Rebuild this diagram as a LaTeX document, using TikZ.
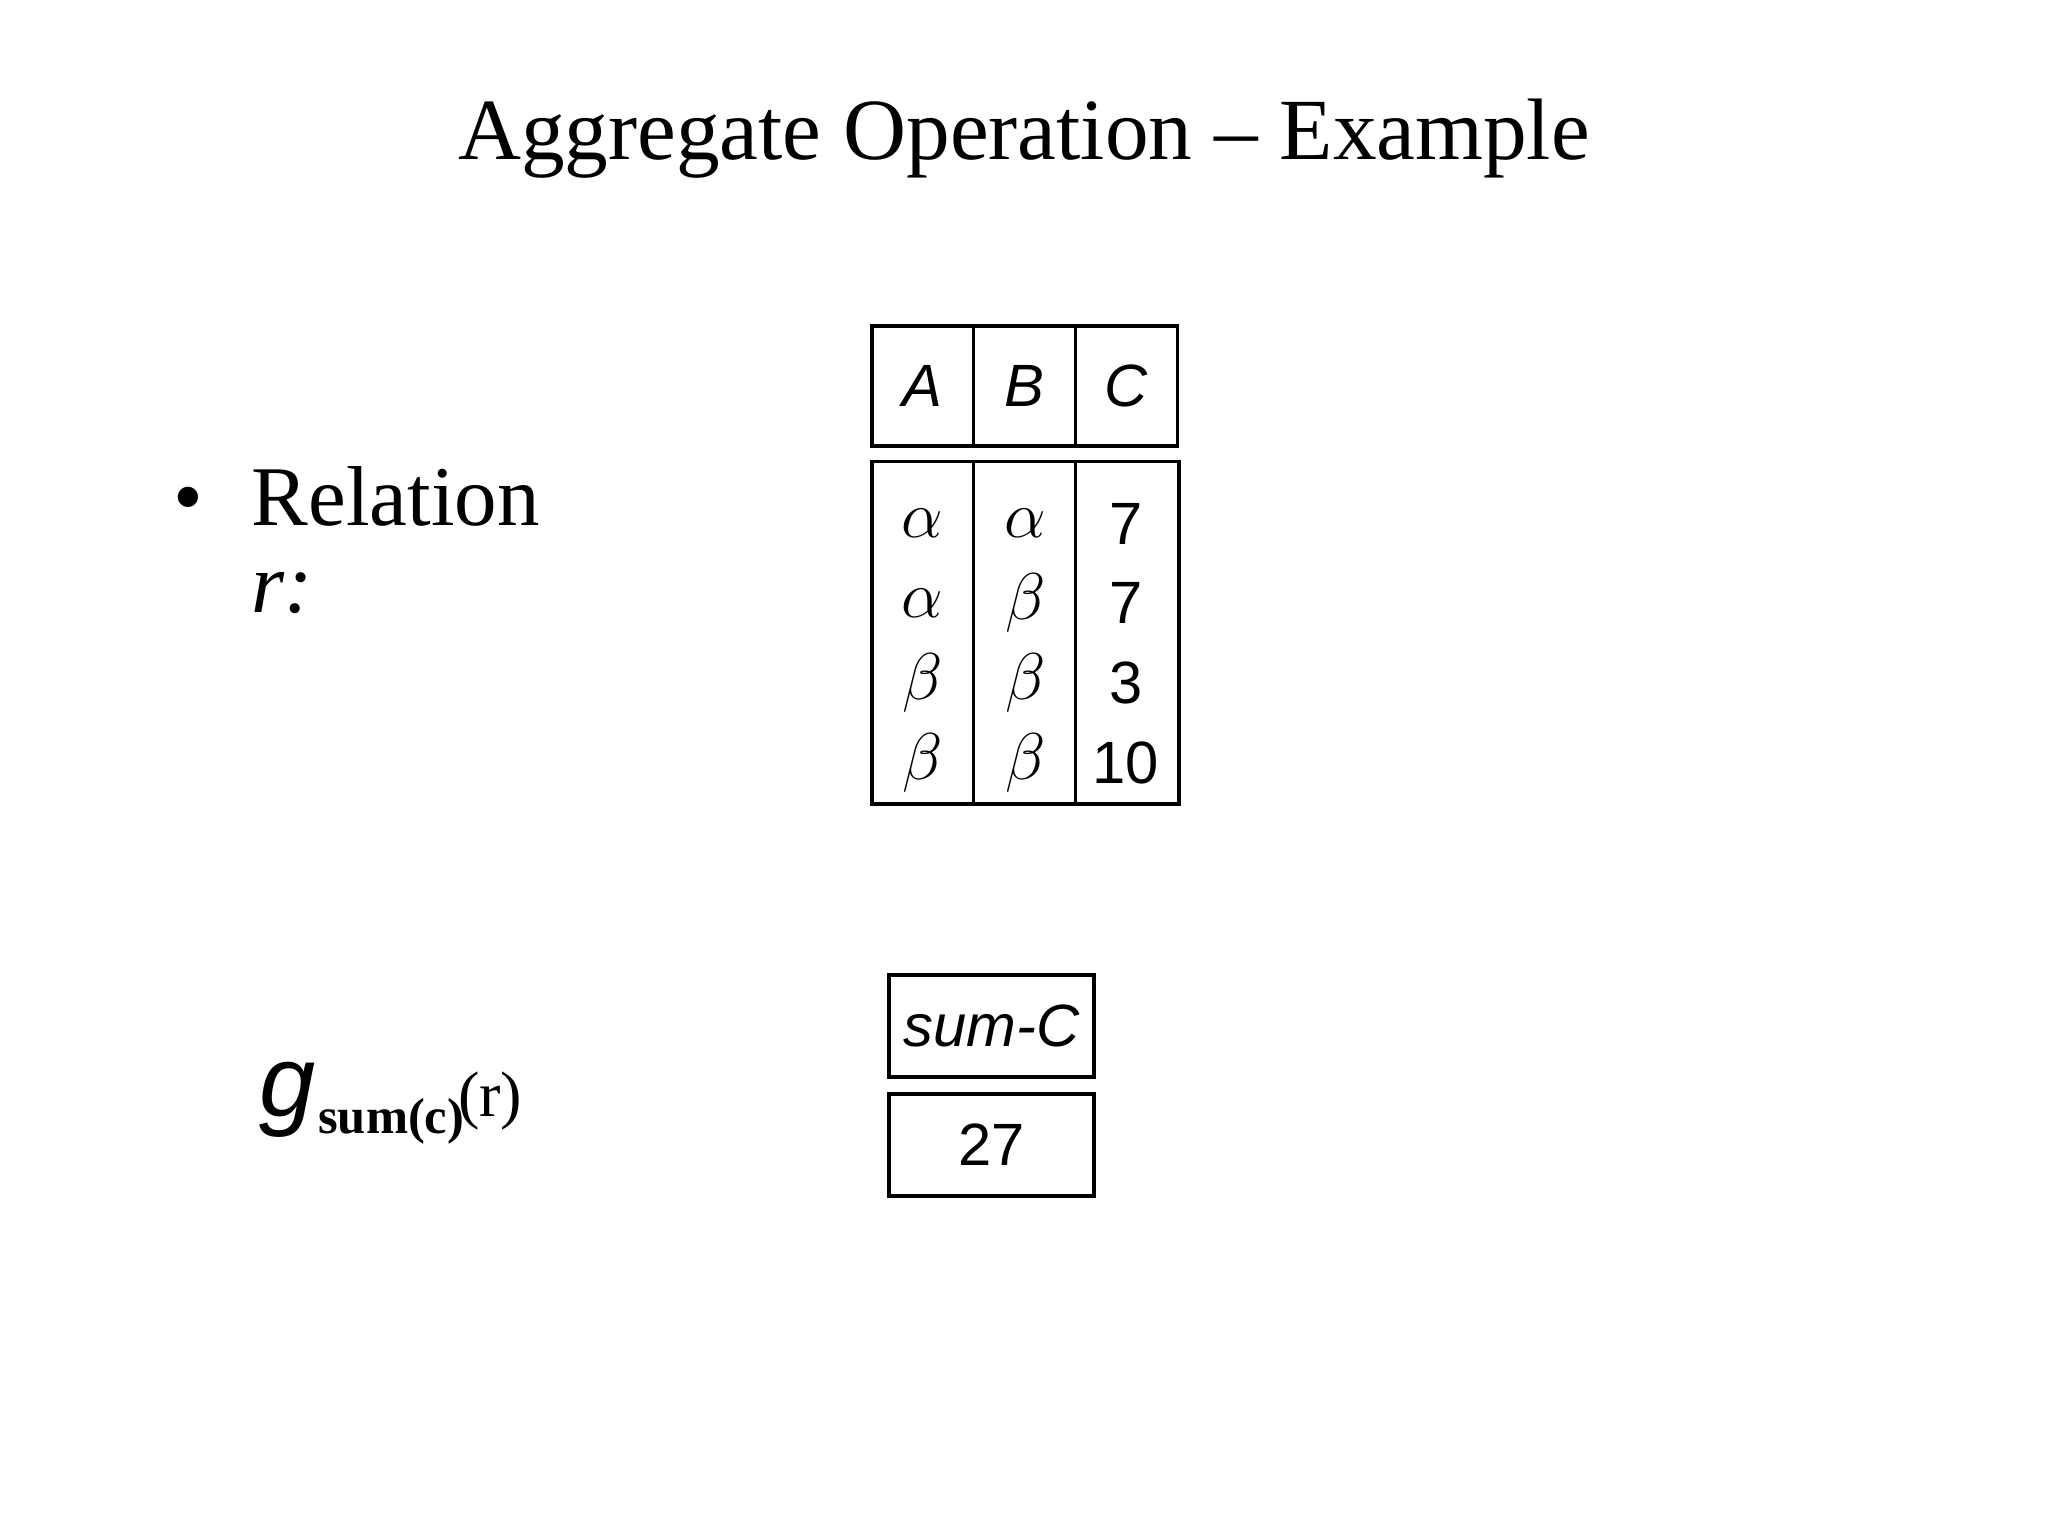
\documentclass[tikz,border=0pt]{standalone}
\usepackage{fontspec}
\setmainfont{Liberation Serif}
\newfontfamily\sansf{Liberation Sans}
\begin{document}
\begin{tikzpicture}[x=0.01cm,y=-0.01cm,
  cell/.style={draw,line width=0.8pt,inner sep=0pt,font=\sansf\fontsize{13}{15}\selectfont},
  big/.style={font=\fontsize{18.5}{22}\selectfont,inner sep=0pt,anchor=base west}]
\useasboundingbox (0,0) rectangle (1568,1176);
\node[font=\fontsize{19}{22}\selectfont,inner sep=0pt,anchor=base] (title) at (784,122) {Aggregate Operation -- Example};
% header
\foreach \x/\t [count=\i] in {666/A,744/B,822/C}
  \node[cell,minimum width=0.78cm,minimum height=0.92cm,anchor=north west] (h\i) at (\x,248) {\itshape\t};
\node[cell,minimum width=0.78cm,minimum height=2.62cm,anchor=north west] (c1) at (666,352) {};
\node[cell,minimum width=0.78cm,minimum height=2.62cm,anchor=north west] (c2) at (744,352) {};
\node[cell,minimum width=0.79cm,minimum height=2.62cm,anchor=north west] (c3) at (822,352) {};
\foreach \y/\a/\b/\c [count=\i] in {401/\alpha/\alpha/7,462/\alpha/\beta/7,523/\beta/\beta/3,584/\beta/\beta/10}{
  \node[font=\fontsize{14}{16}\selectfont] (a\i) at (706,\y) {$\a$};
  \node[font=\fontsize{14}{16}\selectfont] (b\i) at (785,\y) {$\b$};
  \node[font=\sansf\fontsize{13}{15}\selectfont] (v\i) at (862,\y) {\c};
}
\node[big] (bul) at (132,402) {\textbullet};
\node[big] (rel) at (192,402) {Relation};
\node[big] (r) at (192,469) {\itshape r:};
\node[inner sep=0pt,anchor=base west,font=\sansf\itshape\fontsize{22}{24}\selectfont] (g) at (198,855) {g};
\node[inner sep=0pt,anchor=base west,font=\bfseries\fontsize{11}{13}\selectfont] (s) at (243,868) {sum(c)};
\node[inner sep=0pt,anchor=base west,font=\fontsize{14}{16}\selectfont] (rr) at (350,855) {(r)};
\node[cell,minimum width=1.57cm,minimum height=0.78cm,anchor=north west] (sc) at (679,745) {\itshape sum-C};
\node[cell,minimum width=1.57cm,minimum height=0.78cm,anchor=north west] (n27) at (679,836) {27};
\end{tikzpicture}
\end{document}
